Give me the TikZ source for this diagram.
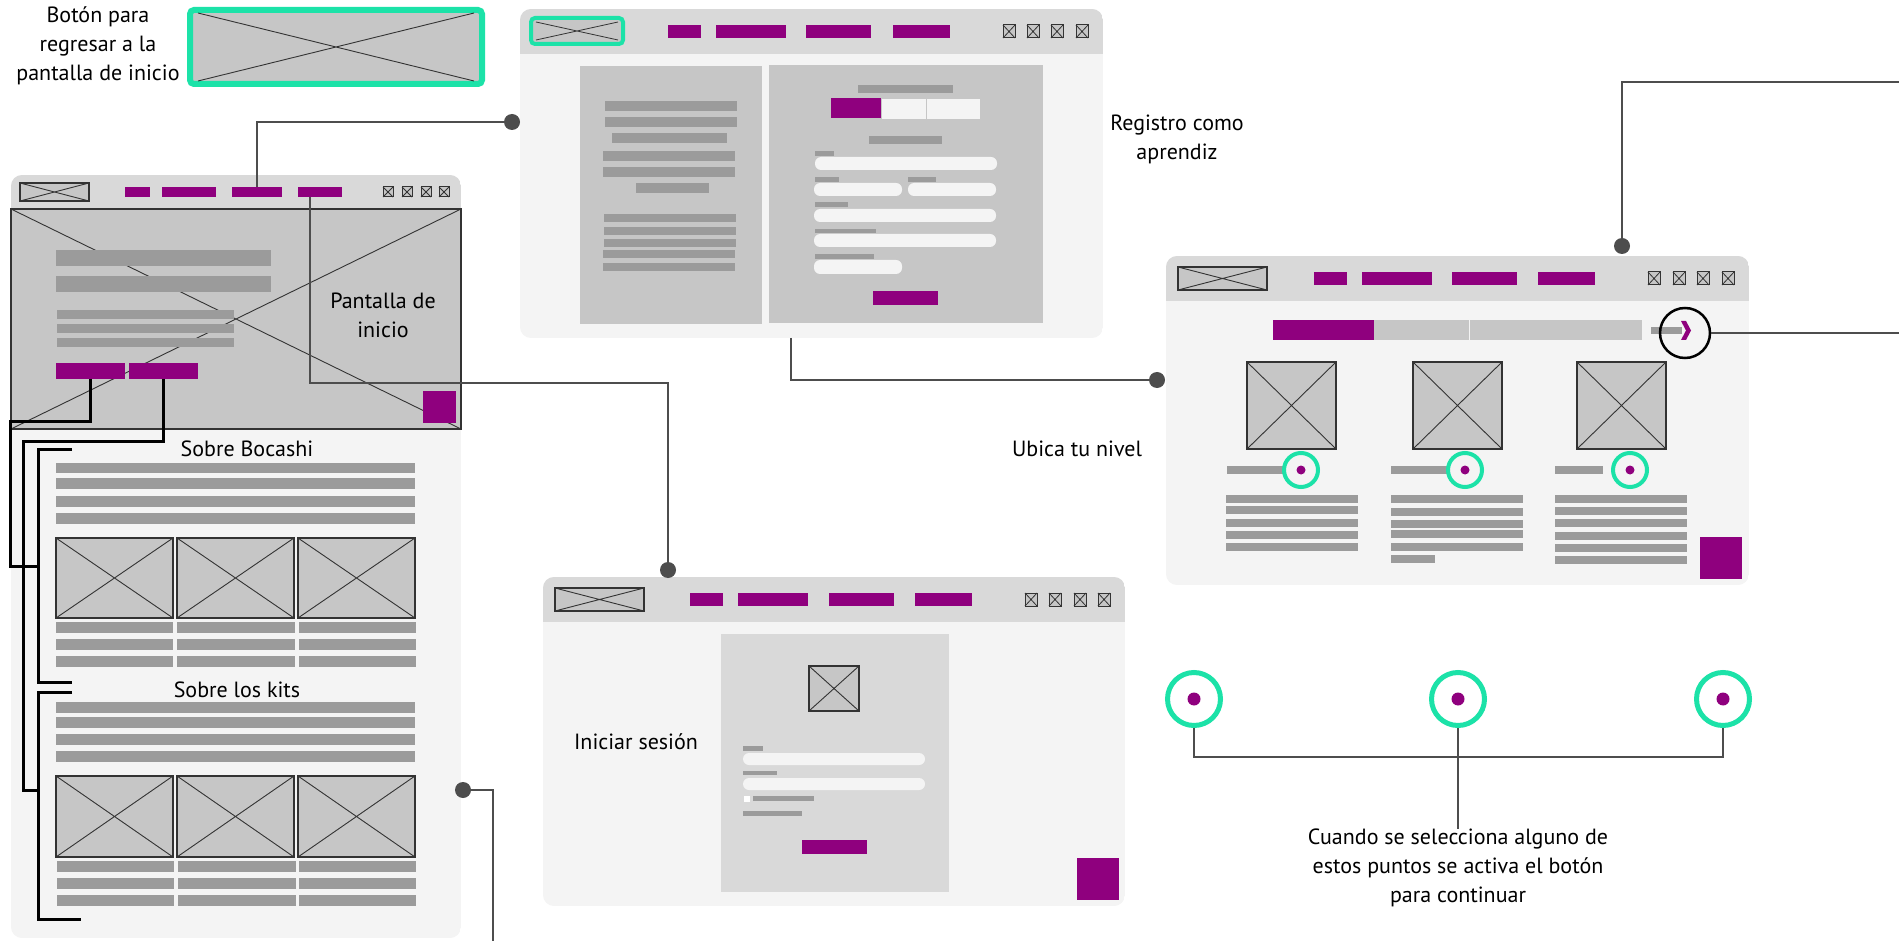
\documentclass[tikz,border=0pt]{standalone}
\usepackage{fontspec}
\setmainfont{PT Sans}
\definecolor{wpur}{RGB}{143,0,126}
\definecolor{wgrn}{RGB}{28,226,168}
\definecolor{whdr}{RGB}{217,217,217}
\definecolor{wbody}{RGB}{244,244,244}
\definecolor{wimg}{RGB}{198,198,198}
\definecolor{wbar}{RGB}{155,155,155}
\definecolor{wline}{RGB}{77,77,77}
\newcommand\wfbar[4]{\fill[wbar] (#1,#2) rectangle (#3,#4);}
\newcommand\wfpur[4]{\fill[wpur] (#1,#2) rectangle (#3,#4);}
\newcommand\wfimg[4]{\filldraw[fill=wimg,draw=black!80,line width=1.2] (#1,#2) rectangle (#3,#4);
  \draw[black!80,line width=0.9] (#1,#2)--(#3,#4) (#1,#4)--(#3,#2);}
\newcommand\wfico[4]{\filldraw[fill=wimg,draw=black!80,line width=1] (#1,#2) rectangle ++(#3,#4);
  \draw[black!80,line width=0.8] (#1,#2) -- ++(#3,#4) ++(-#3,0) -- ++(#3,-#4);}
\newcommand\wfinp[4]{\fill[wbody, rounded corners=6] (#1,#2) rectangle (#3,#4);}
\newcommand\wfwin[5]{\begin{scope}\clip[rounded corners=11] (#1,#2) rectangle (#3,#4);
  \fill[wbody] (#1,#2) rectangle (#3,#4);
  \fill[whdr] (#1,#2) rectangle (#3,#5);\end{scope}}
\tikzset{
  lbl/.style={font=\fontsize{22}{29}\selectfont, align=center, inner sep=0pt},
  conn/.style={draw=wline, line width=2},
  bk/.style={draw=black, line width=3, line join=miter},
  dotn/.style={circle, fill=wline, minimum size=16pt, inner sep=0pt},
}
\begin{document}
\begin{tikzpicture}[x=1pt,y=-1pt]
\useasboundingbox (0,0) rectangle (1899,941);
\fill[white] (0,0) rectangle (1899,941);

% ---------- top-left legend ----------
\node[lbl] (lback) at (98,46) {Botón para\\regresar a la\\pantalla de inicio};
\draw[wgrn, line width=6, rounded corners=4, fill=wimg] (190,10) rectangle (482,84);
\draw[black!80,line width=0.9] (198,13)--(474,81) (198,81)--(474,13);

% ---------- home window ----------
\wfwin{11}{175}{461}{938}{209}
\wfimg{20}{183}{89}{201}
\wfpur{125}{187}{150}{197}\wfpur{162}{187}{216}{197}\wfpur{232}{187}{282}{197}\wfpur{298}{187}{342}{197}
\wfico{383}{187}{10}{10}\wfico{402}{187}{10}{10}\wfico{421}{187}{10}{10}\wfico{439}{187}{10}{10}
\wfimg{11}{209}{461}{429}
\wfbar{56}{250}{271}{266}\wfbar{56}{276}{271}{292}
\wfbar{57}{310}{234}{319}\wfbar{57}{324}{234}{333}\wfbar{57}{338}{234}{347}
\wfpur{56}{363}{125}{379}\wfpur{129}{363}{198}{379}
\wfpur{423}{391}{456}{423}
\node[lbl] (lhome) at (383,315) {Pantalla de\\inicio};
\node[lbl] (lboc) at (247,449) {Sobre Bocashi};
\wfbar{56}{463}{415}{473}\wfbar{56}{478}{415}{489}\wfbar{56}{496}{415}{507}\wfbar{56}{513}{415}{524}
\wfimg{56}{538}{173}{618}\wfimg{177}{538}{294}{618}\wfimg{298}{538}{415}{618}
\foreach \yy in {622,639,656}{\wfbar{56}{\yy}{173}{\yy+11}\wfbar{177}{\yy}{295}{\yy+11}\wfbar{299}{\yy}{416}{\yy+11}}
\node[lbl] (lkits) at (237,690) {Sobre los kits};
\wfbar{56}{702}{415}{713}\wfbar{56}{717}{415}{728}\wfbar{56}{734}{415}{745}\wfbar{56}{751}{415}{762}
\wfimg{56}{776}{173}{857}\wfimg{177}{776}{294}{857}\wfimg{298}{776}{415}{857}
\foreach \yy in {861,878,895}{\wfbar{57}{\yy}{174}{\yy+11}\wfbar{178}{\yy}{296}{\yy+11}\wfbar{299}{\yy}{416}{\yy+11}}

% ---------- registro window ----------
\wfwin{520}{9}{1103}{338}{54}
\draw[wgrn, line width=4, rounded corners=4, fill=wimg] (531,18) rectangle (623,44);
\draw[black!80,line width=0.8] (536,22)--(618,40) (536,40)--(618,22);
\wfpur{668}{25}{701}{38}\wfpur{716}{25}{786}{38}\wfpur{806}{25}{871}{38}\wfpur{893}{25}{950}{38}
\wfico{1003}{25}{12}{13}\wfico{1027}{25}{12}{13}\wfico{1051}{25}{12}{13}\wfico{1076}{25}{12}{13}
\fill[wimg] (580,66) rectangle (762,324);
\fill[wimg] (769,65) rectangle (1043,323);
\wfbar{605}{101}{737}{111}\wfbar{605}{117}{737}{127}\wfbar{612}{133}{727}{143}
\wfbar{603}{151}{735}{161}\wfbar{603}{167}{735}{177}\wfbar{636}{183}{709}{193}
\wfbar{604}{214}{736}{222}\wfbar{604}{227}{736}{235}\wfbar{604}{239}{736}{247}
\wfbar{603}{250}{735}{258}\wfbar{603}{263}{735}{271}
\wfbar{858}{85}{953}{93}
\wfpur{831}{98}{881}{118}
\fill[wbody] (882,99) rectangle (926,119);
\fill[wbody] (927,99) rectangle (980,119);
\wfbar{869}{136}{942}{144}
\wfbar{815}{151}{834}{156}\wfinp{815}{157}{997}{170}
\wfbar{815}{177}{839}{182}\wfbar{908}{177}{936}{182}
\wfinp{814}{183}{902}{196}\wfinp{908}{183}{996}{196}
\wfbar{815}{202}{848}{207}\wfinp{814}{209}{996}{222}
\wfbar{815}{229}{876}{233}\wfinp{814}{234}{996}{247}
\wfbar{815}{254}{874}{259}\wfinp{814}{260}{902}{274}
\wfpur{873}{291}{938}{305}
\node[lbl] (lreg) at (1177,139) {Registro como\\aprendiz};

% ---------- iniciar sesion window ----------
\wfwin{543}{577}{1125}{906}{622}
\wfimg{555}{588}{644}{611}
\wfpur{690}{593}{723}{606}\wfpur{738}{593}{808}{606}\wfpur{829}{593}{894}{606}\wfpur{915}{593}{972}{606}
\wfico{1025}{593}{12}{13}\wfico{1049}{593}{12}{13}\wfico{1074}{593}{12}{13}\wfico{1098}{593}{12}{13}
\fill[whdr] (721,634) rectangle (949,892);
\wfimg{809}{666}{859}{711}
\wfbar{743}{746}{763}{751}\wfinp{743}{753}{925}{765}
\wfbar{743}{771}{777}{775}\wfinp{743}{778}{925}{790}
\fill[white] (744,796) rectangle (750,802);
\wfbar{753}{796}{814}{801}
\wfbar{743}{811}{802}{816}
\wfpur{802}{840}{867}{854}
\wfpur{1077}{858}{1119}{900}
\node[lbl] (lses) at (636,742) {Iniciar sesión};

% ---------- ubica window ----------
\wfwin{1166}{256}{1749}{585}{301}
\wfimg{1178}{267}{1267}{290}
\wfpur{1314}{272}{1347}{285}\wfpur{1362}{272}{1432}{285}\wfpur{1452}{272}{1517}{285}\wfpur{1538}{272}{1595}{285}
\wfico{1648}{272}{12}{13}\wfico{1673}{272}{12}{13}\wfico{1697}{272}{12}{13}\wfico{1722}{272}{12}{13}
\wfpur{1273}{320}{1374}{340}
\fill[wimg] (1374,320) rectangle (1469,340);
\fill[wimg] (1470,320) rectangle (1642,340);
\wfbar{1651}{327}{1682}{334}
\fill[wpur] (1681,321) -- (1686,321) -- (1691,330.5) -- (1686,340) -- (1681,340) -- (1686,330.5) -- cycle;
\node[circle, draw=black, line width=2.5, minimum size=50pt, inner sep=0pt] (next) at (1685,333) {};
\wfimg{1247}{362}{1336}{449}\wfimg{1413}{362}{1502}{449}\wfimg{1577}{362}{1666}{449}
\wfbar{1227}{466}{1290}{474}\wfbar{1391}{466}{1452}{474}\wfbar{1555}{466}{1603}{474}
\foreach \cx in {1301,1465,1630}{
  \filldraw[fill=wbody, draw=wgrn, line width=4] (\cx,470) circle[radius=17];
  \fill[wpur] (\cx,470) circle[radius=4.5];}
\foreach \yy in {495,506,519,531,543}{\wfbar{1226}{\yy}{1358}{\yy+8}}
\foreach \yy in {495,508,520,530,543}{\wfbar{1391}{\yy}{1523}{\yy+8}}
\wfbar{1391}{555}{1435}{563}
\foreach \yy in {495,507,519,532,544,556}{\wfbar{1555}{\yy}{1687}{\yy+8}}
\wfpur{1700}{537}{1742}{579}
\node[lbl] (lubi) at (1077,449) {Ubica tu nivel};

% ---------- selection circles ----------
\foreach \nm/\cx in {ca/1194,cb/1458,cc/1723}{
  \node[circle, draw=wgrn, fill=white, line width=5, minimum size=53pt, inner sep=0pt] (\nm) at (\cx,699) {};
  \fill[wpur] (\cx,699) circle[radius=6.5];}
\node[lbl] (lcuando) at (1458,868) {Cuando se selecciona alguno de\\estos puntos se activa el botón\\para continuar};
\draw[conn] (ca.south) -- (1194,757) -| (cc.south);
\draw[conn] (cb.south) -- (lcuando.north);

% ---------- connectors ----------
\node[dotn] (d1) at (512,122) {};
\node[dotn] (d2) at (668,570) {};
\node[dotn] (d3) at (1157,380) {};
\node[dotn] (d4) at (1622,246) {};
\node[dotn] (d5) at (463,790) {};
\coordinate (nav3) at (257,187);
\coordinate (nav4) at (310,197);
\coordinate (regb) at (791,338);
\coordinate (eR1) at (1899,82);
\coordinate (eR2) at (1899,333);
\coordinate (eB) at (493,941);
\draw[conn] (d1.center) -| (nav3);
\draw[conn] (nav4) -- (310,383) -| (d2.center);
\draw[conn] (regb) -- (791,380) -- (d3.center);
\draw[conn] (d4.center) |- (eR1);
\draw[conn] (next.east) -- (eR2);
\draw[conn] (d5.center) -| (eB);

% ---------- black brackets ----------
\coordinate (hb1s) at (90,379);
\coordinate (hb2s) at (163,379);
\coordinate (s1t) at (72,449);
\coordinate (s1m) at (38,566);
\coordinate (s1b) at (72,682);
\coordinate (s2t) at (72,692);
\coordinate (s2m) at (38,790);
\coordinate (s2b) at (81,919);
\draw[bk] (hb1s) -- (90,421) -| (10,566) -- (s1m);
\draw[bk] (hb2s) -- (163,441) -| (23,790) -- (s2m);
\draw[bk] (s1t) -| (s1m) |- (s1b);
\draw[bk] (s2t) -| (s2m) |- (s2b);
\end{tikzpicture}
\end{document}
